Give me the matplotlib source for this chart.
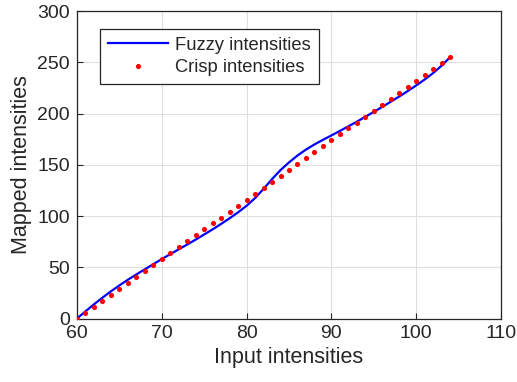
import matplotlib
matplotlib.use("Agg")
import matplotlib.pyplot as plt

# Data
x_fuzzy = [60, 61, 62, 63, 64, 65, 66, 67, 68, 69, 70, 71, 72, 73, 74, 75, 76, 77, 78, 79,
           80, 81, 82, 83, 84, 85, 86, 87, 88, 89, 90, 91, 92, 93, 94, 95, 96, 97, 98, 99,
           100, 101, 102, 103, 104]
y_fuzzy = [0, 7, 13.8, 20.3, 26.5, 32.3, 37.8, 43, 48, 53, 58, 62.8, 67.5, 72.2, 77, 82, 87, 92.3,
           97.8, 103.6, 110, 117.5, 126.5, 136, 144.8, 152.3, 159, 164.8, 169.8, 174.3, 178.6, 183,
           187.5, 192, 196.8, 201.6, 206.5, 211.5, 216.6, 221.9, 227.4, 233.2, 239.5, 246.7, 255]
x_crisp = [60, 61, 62, 63, 64, 65, 66, 67, 68, 69, 70, 71, 72, 73, 74, 75, 76, 77, 78, 79,
           80, 81, 82, 83, 84, 85, 86, 87, 88, 89, 90, 91, 92, 93, 94, 95, 96, 97, 98, 99,
           100, 101, 102, 103, 104]
y_crisp = [0, 5.8, 11.6, 17.4, 23.2, 29.0, 34.8, 40.6, 46.4, 52.2, 58.0, 63.8, 69.5, 75.3, 81.1,
           86.9, 92.7, 98.5, 104.3, 110.1, 115.9, 121.7, 127.5, 133.3, 139.1, 144.9, 150.7, 156.5,
           162.3, 168.1, 173.9, 179.7, 185.5, 191.2, 197.0, 202.8, 208.6, 214.4, 220.2, 226.0,
           231.8, 237.6, 243.4, 249.2, 255]
x_ticks = [60, 70, 80, 90, 100, 110]
y_ticks = [0, 50, 100, 150, 200, 250, 300]

plt.rcParams['font.family'] = ['Liberation Sans', 'DejaVu Sans']
txt = '#262626'

fig = plt.figure(figsize=(5.17, 3.82), dpi=100)
ax = fig.add_axes([0.1489, 0.1662, 0.9691 - 0.1489, 0.9712 - 0.1662])

ax.plot(x_fuzzy, y_fuzzy, color='#0000ff', lw=1.6, label='Fuzzy intensities', zorder=3,
        solid_joinstyle='round')
ax.plot(x_crisp, y_crisp, linestyle='none', marker='o', ms=3.7, color='#ff0000',
        markeredgewidth=0, label='Crisp intensities', zorder=4)

ax.set_xlim(60, 110)
ax.set_ylim(0, 300)
ax.set_xticks(x_ticks)
ax.set_yticks(y_ticks)
ax.grid(True, color='#dfdfdf', lw=0.8)
ax.set_axisbelow(True)
ax.tick_params(direction='in', length=4, width=0.8, colors=txt, labelsize=14, pad=5)
for s in ax.spines.values():
    s.set_color(txt)
    s.set_linewidth(0.9)

ax.set_xlabel('Input intensities', fontsize=15.5, color=txt, labelpad=3)
ax.set_ylabel('Mapped intensities', fontsize=15.5, color=txt, labelpad=4)

leg = ax.legend(loc='upper left', bbox_to_anchor=(0.054, 0.941), borderaxespad=0,
                fancybox=False, edgecolor=txt, fontsize=13.2, handlelength=3.3,
                handletextpad=0.4, borderpad=0.42, labelspacing=0.28, framealpha=1)
leg.get_frame().set_linewidth(0.9)
for t in leg.get_texts():
    t.set_color(txt)

fig.savefig('out.png', dpi=100)
